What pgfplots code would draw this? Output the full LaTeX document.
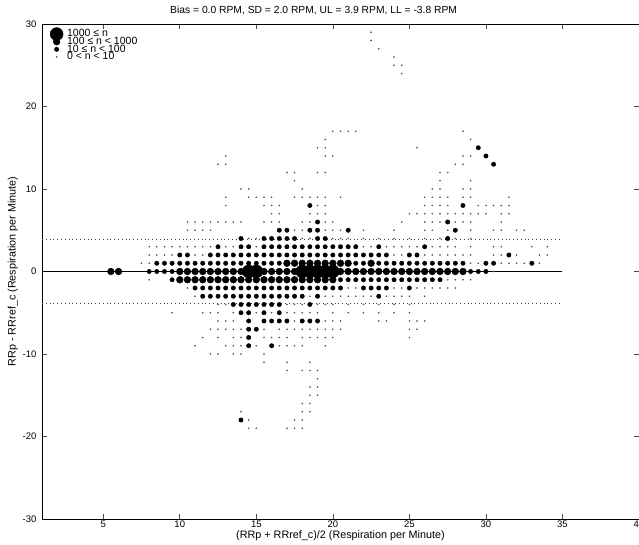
\documentclass[border=0pt]{standalone}
\usepackage{fontspec}
\setmainfont{Liberation Sans}
\usepackage{pgfplots}
\usepackage{pgfplotstable}
\pgfplotsset{compat=1.18}

% cells of the Bland-Altman grid, one table per count class
\pgfplotstableread{
x y
14.5 0
15 0
18 0
18.5 0
19 0
19.5 0
20 0
}\nlarge

\pgfplotstableread{
x y
17 1
17.5 1
18 1
18.5 1
19 1
19.5 1
20 1
20.5 1
21 1
22.5 1
5.5 0
6 0
10 0
10.5 0
11 0
11.5 0
12 0
12.5 0
13 0
13.5 0
14 0
15.5 0
16 0
16.5 0
17 0
17.5 0
20.5 0
21 0
21.5 0
22 0
22.5 0
23 0
23.5 0
24 0
24.5 0
25 0
25.5 0
26 0
26.5 0
27 0
27.5 0
28 0
28.5 0
10 -1
10.5 -1
11 -1
11.5 -1
12 -1
12.5 -1
13 -1
13.5 -1
14 -1
14.5 -1
15 -1
15.5 -1
16 -1
16.5 -1
17 -1
17.5 -1
18 -1
18.5 -1
19 -1
19.5 -1
20 -1
}\nmedium

\pgfplotstableread{
x y
29.5 15
30 14
30.5 13
18.5 8
28.5 8
19 6
27.5 6
16.5 5
17 5
18.5 5
19 5
21 5
28 5
14 4
15.5 4
16 4
16.5 4
17 4
17.5 4
19 4
19.5 4
27.5 4
12.5 3
14 3
14.5 3
15.5 3
16 3
16.5 3
17 3
17.5 3
18 3
18.5 3
19 3
19.5 3
20 3
20.5 3
21 3
21.5 3
23 3
26 3
10 2
10.5 2
12 2
12.5 2
13 2
13.5 2
14 2
14.5 2
15 2
15.5 2
16 2
16.5 2
17 2
17.5 2
18 2
18.5 2
19 2
19.5 2
20 2
20.5 2
21 2
21.5 2
22 2
22.5 2
23 2
23.5 2
25 2
25.5 2
31.5 2
8.5 1
9 1
9.5 1
10 1
10.5 1
11 1
11.5 1
12 1
12.5 1
13 1
13.5 1
14 1
14.5 1
15 1
15.5 1
16 1
16.5 1
21.5 1
22 1
23 1
23.5 1
24 1
24.5 1
25 1
25.5 1
26 1
26.5 1
27 1
27.5 1
28 1
28.5 1
30 1
30.5 1
33 1
8 0
8.5 0
9 0
9.5 0
29 0
29.5 0
30 0
9.5 -1
20.5 -1
21 -1
21.5 -1
22 -1
22.5 -1
23 -1
23.5 -1
24 -1
24.5 -1
25 -1
25.5 -1
26 -1
26.5 -1
27 -1
11 -2
11.5 -2
12 -2
12.5 -2
13 -2
13.5 -2
14 -2
14.5 -2
15 -2
15.5 -2
16 -2
16.5 -2
17 -2
17.5 -2
18 -2
18.5 -2
19 -2
19.5 -2
20 -2
20.5 -2
22 -2
22.5 -2
23 -2
23.5 -2
25 -2
11.5 -3
12 -3
12.5 -3
13 -3
13.5 -3
14 -3
14.5 -3
15 -3
15.5 -3
16 -3
16.5 -3
17 -3
17.5 -3
18 -3
19 -3
23 -3
13.5 -4
14 -4
14.5 -4
15 -4
15.5 -4
16 -4
16.5 -4
18.5 -4
14 -5
14.5 -5
15.5 -5
16.5 -5
14.5 -6
15.5 -6
16 -6
16.5 -6
17 -6
18 -6
18.5 -6
19 -6
14.5 -7
15 -7
14.5 -8
14.5 -9
16 -9
14 -18
}\nsmall

\pgfplotstableread{
x y
22.5 29
22.5 28
23 27
24 26
24 25
24.5 25
24.5 24
20 17
20.5 17
21 17
21.5 17
28.5 17
19.5 16
29 16
19 15
19.5 15
25.5 15
13 14
19.5 14
20 14
28.5 14
29 14
12.5 13
13 13
28 13
28.5 13
17 12
17.5 12
19 12
19.5 12
27 12
27.5 12
17.5 11
27 11
29 11
14 10
14.5 10
18 10
26.5 10
27 10
28.5 10
29 10
13 9
14.5 9
15 9
15.5 9
16 9
17.5 9
18 9
18.5 9
19 9
19.5 9
20.5 9
26 9
26.5 9
27 9
27.5 9
28.5 9
29 9
31.5 9
13 8
15.5 8
16 8
16.5 8
19 8
19.5 8
26 8
26.5 8
27 8
27.5 8
29.5 8
30 8
30.5 8
31 8
31.5 8
16 7
16.5 7
18.5 7
19 7
19.5 7
25 7
25.5 7
26 7
26.5 7
27 7
27.5 7
28 7
28.5 7
29 7
29.5 7
30 7
31 7
31.5 7
10.5 6
11 6
11.5 6
12 6
12.5 6
13 6
13.5 6
14 6
15.5 6
16 6
16.5 6
18 6
18.5 6
19.5 6
20 6
24.5 6
26 6
26.5 6
27 6
28 6
28.5 6
29 6
31 6
10.5 5
11 5
11.5 5
12 5
17.5 5
18 5
19.5 5
20 5
20.5 5
22 5
24 5
26 5
26.5 5
27.5 5
29 5
30.5 5
31 5
32 5
32.5 5
14.5 4
15 4
18 4
18.5 4
20 4
20.5 4
21 4
22 4
23 4
24 4
25 4
26 4
27 4
28 4
29 4
8 3
8.5 3
9 3
9.5 3
10 3
10.5 3
11 3
11.5 3
12 3
13 3
13.5 3
15 3
22 3
22.5 3
23.5 3
24 3
24.5 3
25 3
25.5 3
26.5 3
27 3
27.5 3
28 3
29 3
30.5 3
31 3
33 3
34 3
8 2
8.5 2
9 2
9.5 2
11 2
11.5 2
24 2
24.5 2
26 2
26.5 2
27 2
27.5 2
28 2
28.5 2
29 2
30.5 2
31 2
32 2
33.5 2
34 2
7.5 1
8 1
29 1
29.5 1
31 1
31.5 1
32 1
32.5 1
33.5 1
30.5 0
8 -1
27.5 -1
28 -1
28.5 -1
29 -1
10.5 -2
21 -2
21.5 -2
24 -2
24.5 -2
25.5 -2
26 -2
26.5 -2
27 -2
27.5 -2
28 -2
11 -3
18.5 -3
19.5 -3
20 -3
20.5 -3
21 -3
21.5 -3
22 -3
22.5 -3
23.5 -3
24 -3
24.5 -3
25 -3
26 -3
12.5 -4
13 -4
17 -4
17.5 -4
18 -4
19 -4
19.5 -4
20 -4
21 -4
22 -4
23 -4
24 -4
25 -4
9.5 -5
11.5 -5
12 -5
12.5 -5
13.5 -5
15 -5
16 -5
17 -5
17.5 -5
18 -5
18.5 -5
19 -5
20 -5
21 -5
22 -5
23 -5
24 -5
25 -5
12.5 -6
13 -6
13.5 -6
17.5 -6
19.5 -6
20 -6
20.5 -6
23 -6
23.5 -6
25 -6
25.5 -6
26 -6
12 -7
12.5 -7
13 -7
13.5 -7
14 -7
15.5 -7
16.5 -7
17 -7
17.5 -7
18 -7
18.5 -7
19 -7
19.5 -7
20 -7
20.5 -7
25 -7
25.5 -7
11.5 -8
12.5 -8
13.5 -8
14 -8
15.5 -8
16 -8
16.5 -8
17 -8
18 -8
18.5 -8
19 -8
19.5 -8
20 -8
25 -8
11 -9
13 -9
13.5 -9
14 -9
15 -9
16.5 -9
17 -9
17.5 -9
18 -9
19.5 -9
12 -10
12.5 -10
13.5 -10
14 -10
15.5 -10
15.5 -11
17 -11
18.5 -11
17 -12
18 -12
18.5 -12
19 -12
19 -13
18.5 -14
19 -14
18.5 -15
19 -15
18 -16
18.5 -16
14 -17
18 -17
18.5 -17
14.5 -18
17.5 -18
18 -18
14.5 -19
15 -19
17 -19
17.5 -19
18 -19
}\ntiny

\begin{document}
\begin{tikzpicture}[trim axis right]
\begin{axis}[
    width=597pt, height=495pt,
    scale only axis,
    xmin=1, xmax=40,
    ymin=-30, ymax=30,
    xtick={5,10,...,40},
    ytick={-30,-20,...,30},
    tick align=inside,
    major tick length=5pt,
    axis line style={black, line width=0.7pt},
    tick style={black!70, line width=0.6pt},
    /pgf/number format/assume math mode=true,
    tick label style={font=\fontsize{9.5}{11}\selectfont},
    xticklabel style={yshift=2pt},
    yticklabel style={xshift=-2pt},
    title={Bias = 0.0 RPM, SD = 2.0 RPM, UL = 3.9 RPM, LL = -3.8 RPM},
    title style={font=\fontsize{10.3}{11}\selectfont, at={(0.455,1)}, yshift=0pt},
    xlabel={(RRp + RRref\_c)/2 (Respiration per Minute)},
    ylabel={RRp - RRref\_c (Respiration per Minute)},
    label style={font=\fontsize{10.8}{12}\selectfont},
    xlabel style={yshift=3pt},
    ylabel style={yshift=-2pt},
    legend style={at={(0.012,0.994)}, anchor=north west, draw=none, fill=none,
        font=\fontsize{10.5}{10.5}\selectfont, row sep=-2.2pt,
        nodes={inner sep=0.5pt}},
    legend cell align=left,
    legend image code/.code={%
        \pgfinterruptboundingbox
        \draw[#1] plot coordinates {(0.15cm,0cm)};
        \endpgfinterruptboundingbox
        \path[draw=none, fill=none] (0,-1pt) rectangle (0.5cm,1pt);},
]
\addplot[only marks, mark=*, mark size=6.5pt, black] table {\nlarge};
\addlegendentry{1000 ≤ n}
\addplot[only marks, mark=*, mark size=3.4pt, black] table {\nmedium};
\addlegendentry{100 ≤ n < 1000}
\addplot[only marks, mark=*, mark size=2.2pt, black] table {\nsmall};
\addlegendentry{10 ≤ n < 100}
\addplot[only marks, mark=*, mark size=0.6pt, black!65] table {\ntiny};
\addlegendentry{0 < n < 10}

\addplot[black, line width=0.8pt, forget plot] coordinates {(1,0) (35,0)};
\addplot[black!75, dash pattern=on 0.8pt off 3pt, forget plot] coordinates {(1,3.9) (35,3.9)};
\addplot[black!75, dash pattern=on 0.8pt off 3pt, forget plot] coordinates {(1,-3.8) (35,-3.8)};
\end{axis}
\path ([xshift=-42pt,yshift=-26pt]current axis.south west) rectangle ([xshift=-41pt,yshift=24pt]current axis.north west);
\end{tikzpicture}
\end{document}
